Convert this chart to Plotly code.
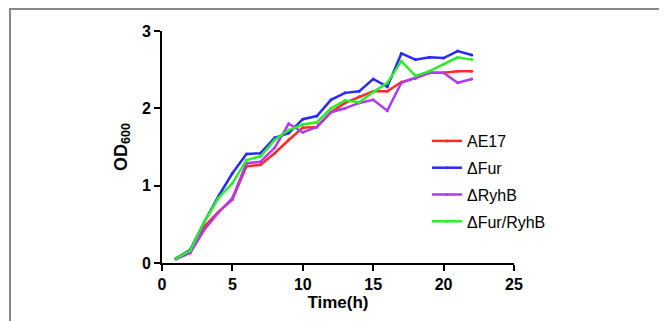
import plotly.graph_objects as go

time_h = list(range(1, 23))
ae17 = [0.06, 0.14, 0.47, 0.66, 0.82, 1.25, 1.27, 1.42, 1.59, 1.75, 1.76, 1.95, 2.07, 2.15, 2.22, 2.22, 2.34, 2.39, 2.46, 2.46, 2.48, 2.48]
fur = [0.06, 0.17, 0.53, 0.86, 1.16, 1.41, 1.42, 1.62, 1.68, 1.86, 1.90, 2.11, 2.20, 2.22, 2.38, 2.28, 2.71, 2.63, 2.66, 2.65, 2.74, 2.69]
ryhb = [0.05, 0.13, 0.43, 0.65, 0.84, 1.29, 1.31, 1.49, 1.80, 1.69, 1.76, 1.95, 2.00, 2.07, 2.11, 1.97, 2.33, 2.39, 2.46, 2.46, 2.33, 2.38]
fur_ryhb = [0.06, 0.16, 0.53, 0.84, 1.03, 1.33, 1.38, 1.59, 1.72, 1.79, 1.82, 2.00, 2.10, 2.08, 2.21, 2.33, 2.61, 2.42, 2.48, 2.57, 2.66, 2.63]

names = ["AE17", "ΔFur", "ΔRyhB", "ΔFur/RyhB"]
series = [ae17, fur, ryhb, fur_ryhb]
colors = ["#FF2A2A", "#2A2AFF", "#B23AEE", "#2AEE2A"]

fig = go.Figure()
for n, s, c in zip(names, series, colors):
    fig.add_trace(go.Scatter(x=time_h, y=s, name=n, mode="lines+markers",
                             legendgroup=n,
                             line=dict(color=c, width=2.5),
                             marker=dict(color=c, size=3)))

# page has an 8px body margin; compensate
W, H = 667, 321
L, T = 154, 23
pw, ph = 352, 232
R = W - L - pw
B = H - T - ph

def px_x(fx):
    return (fx - L) / pw

def px_y(fy):
    return (T + ph - fy) / ph

fig.update_layout(
    width=W, height=H,
    margin=dict(l=L, r=R, t=T, b=B),
    plot_bgcolor="white", paper_bgcolor="white",
    font=dict(family="Liberation Sans, Arial", color="black"),
    showlegend=True,
    legend=dict(x=px_x(419), y=px_y(116), xanchor="left", yanchor="top",
                font=dict(size=16, color="black"), bgcolor="rgba(0,0,0,0)",
                tracegroupgap=3, itemwidth=30),
    xaxis=dict(range=[0, 25], tickvals=[0, 5, 10, 15, 20, 25],
               showline=True, linecolor="black", linewidth=2,
               ticks="outside", ticklen=6, tickwidth=2, tickcolor="black",
               showgrid=False, zeroline=False,
               tickfont=dict(size=16, weight="bold"),
               title=dict(text="<b>Time(h)</b>", font=dict(size=17), standoff=4)),
    yaxis=dict(range=[0, 3], tickvals=[0, 1, 2, 3],
               showline=True, linecolor="black", linewidth=2,
               ticks="outside", ticklen=6, tickwidth=2, tickcolor="black",
               showgrid=False, zeroline=False,
               tickfont=dict(size=16, weight="bold"),
               title=dict(text="<b>OD<sub>600</sub></b>", font=dict(size=18), standoff=10)),
    shapes=[dict(type="rect", xref="paper", yref="paper",
                 x0=px_x(2), x1=px_x(657),
                 y0=px_y(H + 20), y1=px_y(1),
                 line=dict(color="#888888", width=2), fillcolor="rgba(0,0,0,0)", layer="below")],
)

fig.write_html("out.html")
